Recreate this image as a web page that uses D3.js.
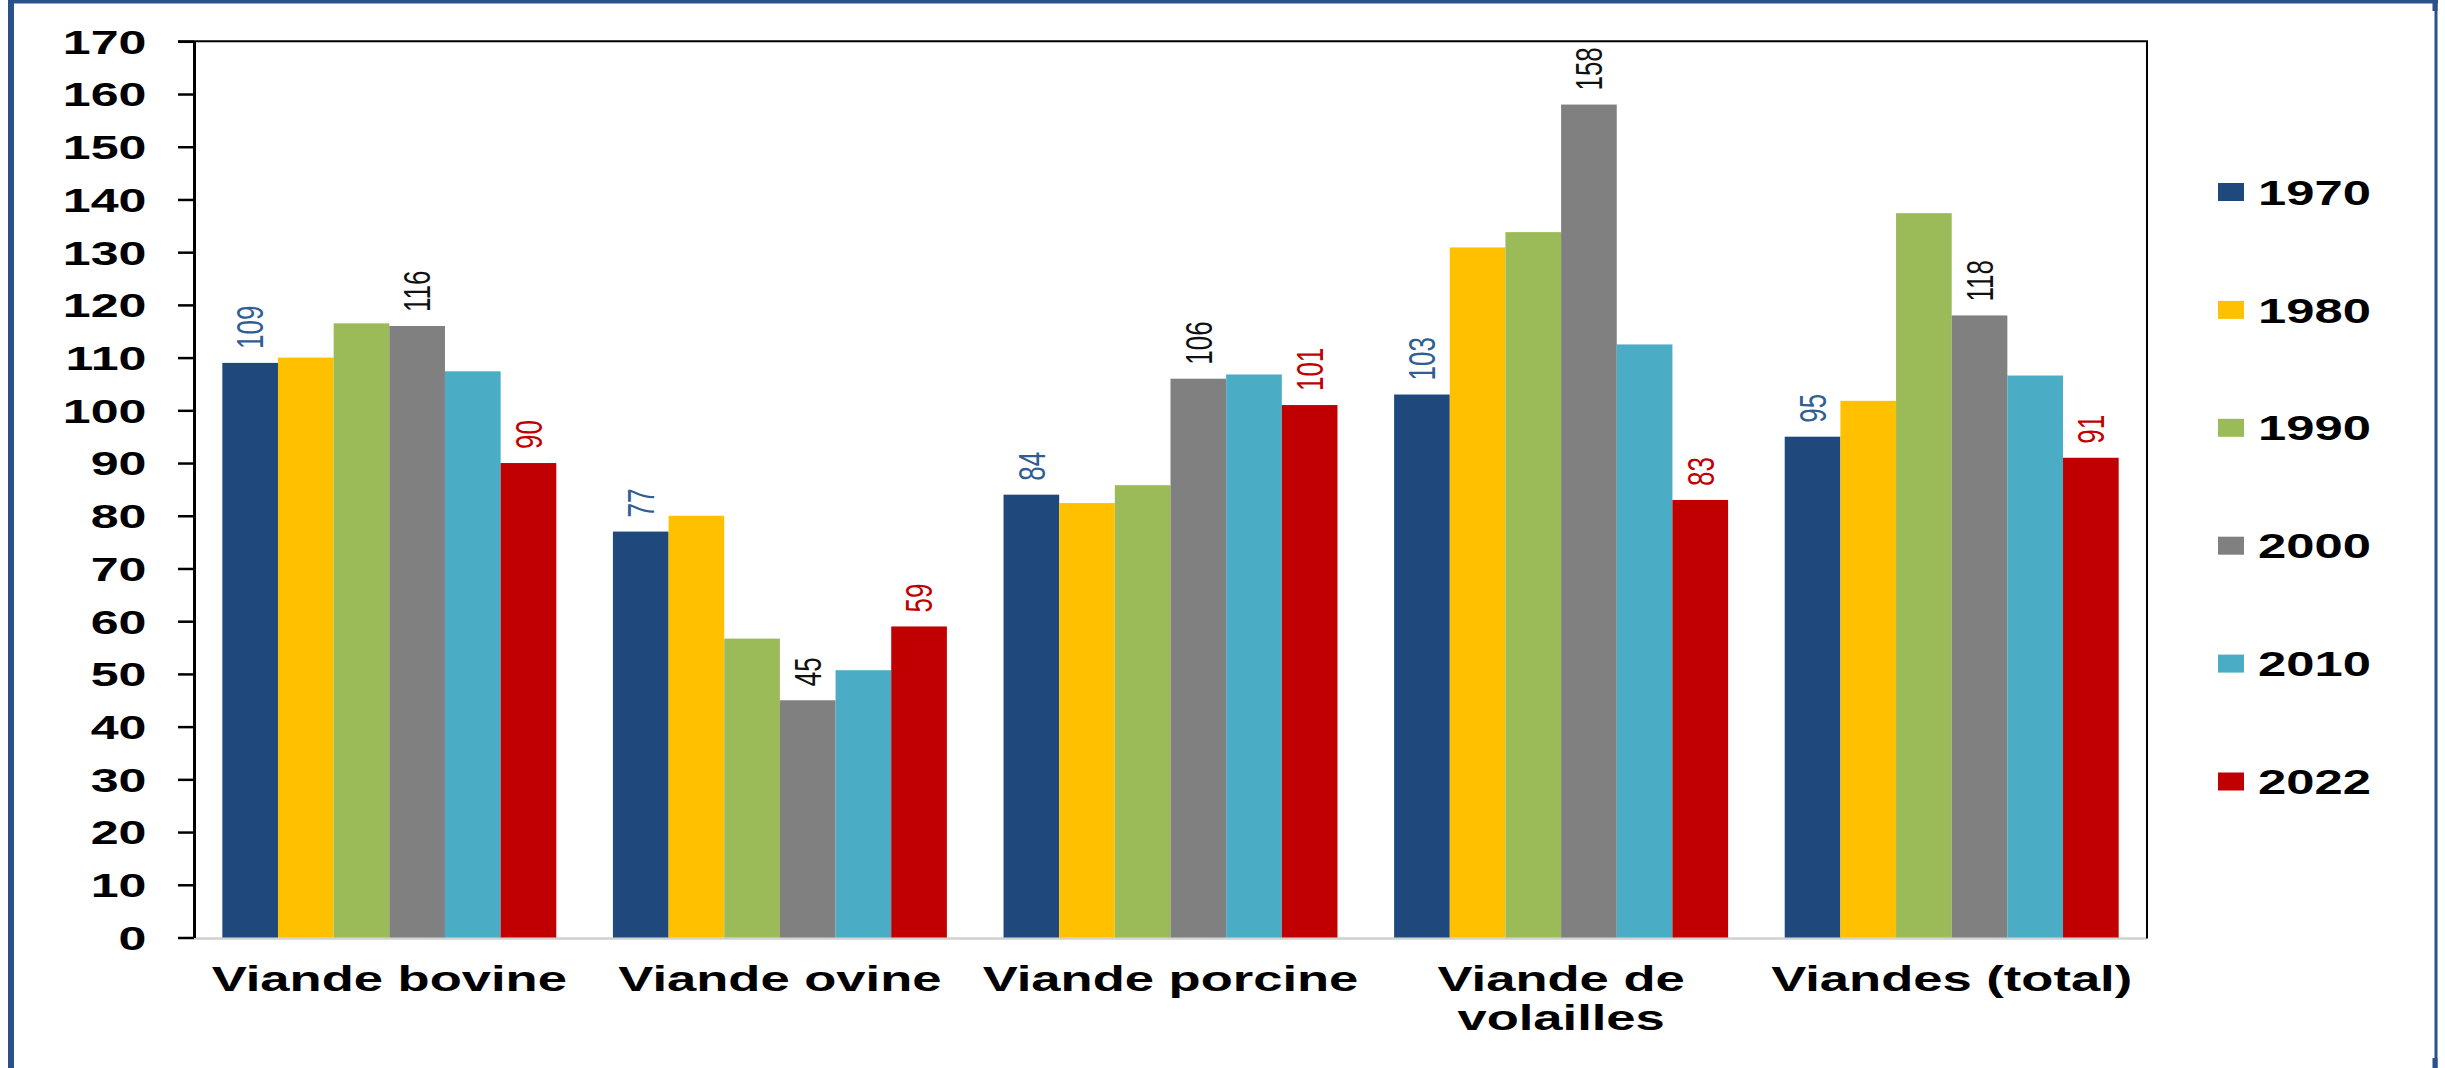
<!DOCTYPE html>
<html>
<head>
<meta charset="utf-8">
<script src="https://cdn.jsdelivr.net/npm/d3@7"></script>
<style>
  html, body { margin: 0; padding: 0; background: #fff; }
  svg { display: block; }
  text { font-family: "Liberation Sans", Arial, Helvetica, sans-serif; }
</style>
</head>
<body>
<svg id="chart" width="2445" height="1068"></svg>
<script>
// Consommation de viande : indice par type de viande et par année
const categories = ["Viande bovine", "Viande ovine", "Viande porcine", "Viande de volailles", "Viandes (total)"];
const categoryLines = [["Viande bovine"], ["Viande ovine"], ["Viande porcine"], ["Viande de", "volailles"], ["Viandes (total)"]];
const years = ["1970", "1980", "1990", "2000", "2010", "2022"];

const values1970 = [109, 77, 84, 103, 95];
const values1980 = [110, 80, 82.4, 130.9, 101.8];
const values1990 = [116.5, 56.7, 85.8, 133.8, 137.4];
const values2000 = [116, 45, 106, 158, 118];
const values2010 = [107.4, 50.7, 106.8, 112.5, 106.6];
const values2022 = [90, 59, 101, 83, 91];

const yTicks = d3.range(0, 171, 10);

const seriesValues = [values1970, values1980, values1990, values2000, values2010, values2022];
const barColors = ["#1F497D", "#FFC000", "#9BBB59", "#808080", "#4BACC6", "#C00000"];
// Only these years carry value labels, each in its own colour
const labelColors = { "1970": "#2F5E93", "2000": "#111111", "2022": "#C00000" };

const svg = d3.select("#chart");
const W = 2445, H = 1068;
const plot = { left: 194, right: 2147, top: 41.3, bottom: 937.5 };
const sx = 1.5; // wide lettering used throughout the figure

// Outer frame
svg.append("rect").attr("x", 0).attr("y", 0).attr("width", W).attr("height", H).attr("fill", "#fff");
svg.append("rect").attr("x", 8).attr("y", 0).attr("width", 6).attr("height", H).attr("fill", "#2A5189");
svg.append("rect").attr("x", 8).attr("y", 0).attr("width", 2430).attr("height", 3.5).attr("fill", "#2A5189");
svg.append("rect").attr("x", 2434.5).attr("y", 0).attr("width", 3).attr("height", H).attr("fill", "#2A5189");
svg.append("rect").attr("x", 2432.5).attr("y", 0).attr("width", 5).attr("height", 11).attr("fill", "#2A5189");
svg.append("rect").attr("x", 2432.5).attr("y", 1058).attr("width", 5).attr("height", 10).attr("fill", "#2A5189");

const x = d3.scaleBand().domain(categories).range([plot.left, plot.right])
  .paddingInner(0.145).paddingOuter(0.0725);
const xs = d3.scaleBand().domain(years).range([0, x.bandwidth()]).padding(0);
const y = d3.scaleLinear().domain([0, 170]).range([plot.bottom, plot.top]);

// Baseline (light grey)
svg.append("line")
  .attr("x1", plot.left).attr("x2", plot.right)
  .attr("y1", plot.bottom + 1).attr("y2", plot.bottom + 1)
  .attr("stroke", "#D0D0D0").attr("stroke-width", 2.5);

// Bars
const groups = svg.append("g").selectAll("g")
  .data(categories)
  .join("g")
  .attr("transform", d => `translate(${x(d)},0)`);

groups.selectAll("rect")
  .data((c, ci) => years.map((yr, yi) => ({ year: yr, yi, value: seriesValues[yi][ci] })))
  .join("rect")
  .attr("x", d => xs(d.year))
  .attr("width", xs.bandwidth())
  .attr("y", d => y(d.value))
  .attr("height", d => y(0) - y(d.value))
  .attr("fill", d => barColors[d.yi]);

// Value labels (rotated)
groups.selectAll("text.val")
  .data((c, ci) => years.filter(yr => labelColors[yr])
    .map(yr => ({ year: yr, value: seriesValues[years.indexOf(yr)][ci] })))
  .join("text")
  .attr("class", "val")
  .attr("transform", d => `translate(${xs(d.year) + xs.bandwidth() / 2},${y(d.value) - 14}) scale(1.42,1) rotate(-90)`)
  .attr("text-anchor", "start")
  .attr("dy", "0.36em")
  .attr("font-size", 26)
  .attr("fill", d => labelColors[d.year])
  .text(d => d3.format("d")(Math.round(d.value)));

// Plot frame: top and right edges
svg.append("line")
  .attr("x1", plot.left - 16).attr("x2", plot.right + 1)
  .attr("y1", plot.top).attr("y2", plot.top)
  .attr("stroke", "#000").attr("stroke-width", 2);
svg.append("line")
  .attr("x1", plot.right).attr("x2", plot.right)
  .attr("y1", plot.top).attr("y2", plot.bottom + 1)
  .attr("stroke", "#000").attr("stroke-width", 2);

// Y axis
const yAxis = svg.append("g")
  .attr("transform", `translate(${plot.left},0)`)
  .call(d3.axisLeft(y).tickValues(yTicks).tickSizeInner(16).tickSizeOuter(0).tickFormat(d3.format("d")));
yAxis.select(".domain").attr("stroke", "#000").attr("stroke-width", 3);
yAxis.selectAll(".tick line").attr("stroke", "#000").attr("stroke-width", 2.5);
yAxis.selectAll(".tick text")
  .attr("x", null).attr("dy", null)
  .attr("transform", `translate(-47.5,0) scale(1.52,1)`)
  .attr("text-anchor", "end")
  .attr("dy", "0.36em")
  .attr("font-size", 33)
  .attr("font-weight", "bold")
  .attr("fill", "#000")
  .attr("font-family", "'Liberation Sans', Arial, sans-serif");

// Category labels
const catLabels = svg.append("g").selectAll("text")
  .data(categories)
  .join("text")
  .attr("transform", d => `translate(${x(d) + x.bandwidth() / 2},991) scale(1.46,1)`)
  .attr("text-anchor", "middle")
  .attr("font-size", 36)
  .attr("font-weight", "bold")
  .attr("fill", "#000");
catLabels.selectAll("tspan")
  .data((d, i) => categoryLines[i])
  .join("tspan")
  .attr("x", 0)
  .attr("dy", (d, i) => i === 0 ? 0 : 39)
  .text(d => d);

// Legend
const legend = svg.append("g").selectAll("g")
  .data(years)
  .join("g")
  .attr("transform", (d, i) => `translate(2218,${192 + i * 117.9})`);
legend.append("rect")
  .attr("x", 0).attr("y", -9)
  .attr("width", 26).attr("height", 18)
  .attr("fill", (d, i) => barColors[i]);
legend.append("text")
  .attr("transform", "translate(40,0) scale(1.45,1)")
  .attr("dy", "0.36em")
  .attr("font-size", 35)
  .attr("font-weight", "bold")
  .attr("fill", "#000")
  .text(d => d);
</script>
</body>
</html>
